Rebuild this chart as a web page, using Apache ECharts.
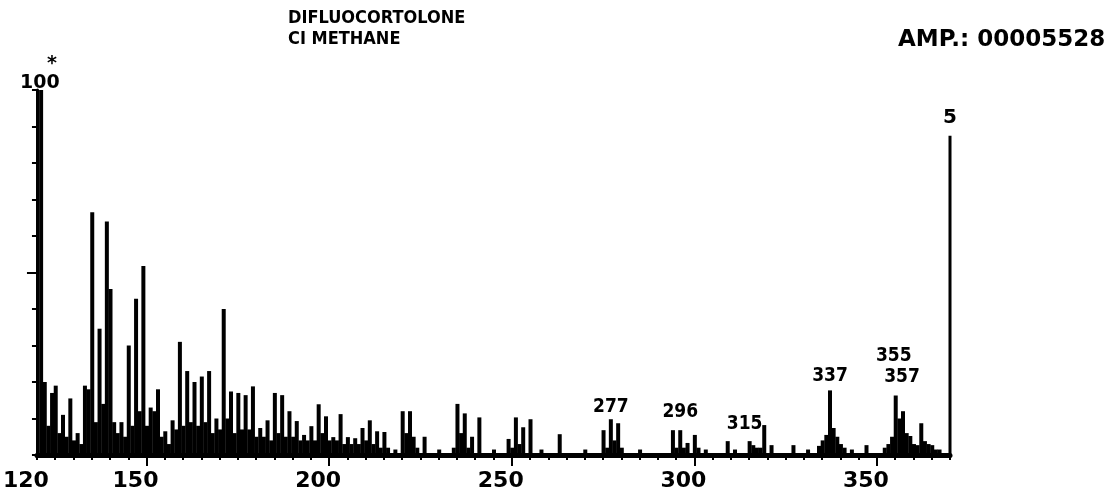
<!DOCTYPE html>
<html>
<head>
<meta charset="utf-8">
<title>DIFLUOCORTOLONE CI METHANE</title>
<script src="https://cdn.jsdelivr.net/npm/echarts@6/dist/echarts.min.js"></script>
<style>
html, body { margin: 0; padding: 0; background: #fff; }
#spectrum { width: 1114px; height: 499px; }
</style>
</head>
<body>
<div id="spectrum"></div>
<script>
// m/z of each peak and its relative intensity (%)
const masses = [
	121, 122, 123, 124, 125, 126, 127, 128, 129, 130, 131, 132, 133, 134, 135, 136, 137, 138, 139, 140,
	141, 142, 143, 144, 145, 146, 147, 148, 149, 150, 151, 152, 153, 154, 155, 156, 157, 158, 159, 160,
	161, 162, 163, 164, 165, 166, 167, 168, 169, 170, 171, 172, 173, 174, 175, 176, 177, 178, 179, 180,
	181, 182, 183, 184, 185, 186, 187, 188, 189, 190, 191, 192, 193, 194, 195, 196, 197, 198, 199, 200,
	201, 202, 203, 204, 205, 206, 207, 208, 209, 210, 211, 212, 213, 214, 215, 216, 218, 220, 221, 222,
	223, 224, 226, 230, 234, 235, 236, 237, 238, 239, 241, 245, 249, 250, 251, 252, 253, 255, 258, 263,
	270, 275, 276, 277, 278, 279, 280, 285, 294, 295, 296, 297, 298, 300, 301, 303, 309, 311, 315, 316,
	317, 318, 319, 321, 327, 331, 334, 335, 336, 337, 338, 339, 340, 341, 343, 347, 352, 353, 354, 355,
	356, 357, 358, 359, 360, 361, 362, 363, 364, 365, 366, 367
];
const intensities = [
	100, 20, 8, 17, 19, 6, 11, 5, 15.5, 4, 6, 3, 19, 18, 66.5, 9, 34.6, 14, 64, 45.5,
	9, 6, 9, 5, 30, 8, 42.8, 12, 51.8, 8, 13, 12, 18, 5, 6.5, 3, 9.5, 7, 31, 8,
	23, 9, 20, 8, 21.5, 9, 23, 6, 10, 7, 40, 10, 17.4, 6, 17, 7, 16.4, 7, 18.8, 5,
	7.4, 5, 9.5, 4, 17, 6, 16.4, 5, 12, 5, 9.3, 4, 5.5, 4, 7.9, 4, 13.9, 6, 10.6, 4,
	4.9, 4, 11.2, 3, 4.9, 3, 4.6, 3, 7.4, 4, 9.5, 3, 6.5, 2, 6.3, 2, 1.5, 12, 6, 12,
	5, 2, 5, 1.5, 2, 14, 6, 11.4, 2, 5, 10.3, 1.5, 4.4, 2, 10.3, 3, 7.6, 9.8, 1.5, 5.7,
	1.5, 6.8, 2, 9.8, 4, 8.7, 2, 1.5, 6.8, 2, 6.8, 2, 3.3, 5.5, 2, 1.5, 3.8, 1.5, 3.8, 2.7,
	2, 2, 8.2, 2.7, 2.7, 1.5, 2.5, 4, 5.5, 17.7, 7.4, 5, 3, 2, 1.5, 2.7, 2, 3, 5, 16.3,
	10, 12, 6, 5.2, 3, 2.7, 8.7, 3.8, 3, 2.7, 1.5, 1.5
];
const labelledMasses = [277, 296, 315, 337, 355, 357];
const xTickLabels = [120, 150, 200, 250, 300, 350];
const xMajorTicks = [150, 200, 250, 300, 350];
const yMajorTicks = [50];
const scaleMarker = [370, 87.5]; // the "5" bar at the right edge

// how far each peak label sits above its peak, px
const labelLift = {277: 3, 296: 9, 315: 8, 337: 5, 355: 30, 357: 25};
const labelShift = {315: -5, 355: -2, 357: -1};

const FONT = "'DejaVu Sans', sans-serif";
const FONT_NARROW = "'DejaVu Sans Condensed', 'DejaVu Sans', sans-serif";

const peakData = masses.map(function (m, i) {
	const item = {value: [m, intensities[i]]};
	if (labelledMasses.indexOf(m) >= 0) {
		item.label = {
			show: true,
			position: "top",
			distance: labelLift[m],
			offset: [labelShift[m] || 0, 0],
			formatter: String(m),
			color: "#000",
			fontFamily: FONT_NARROW,
			fontWeight: "bold",
			fontSize: 19
		};
	}
	return item;
});

const chart = echarts.init(document.getElementById("spectrum"));
chart.setOption({
	animation: false,
	backgroundColor: "#fff",
	title: [
		{
			text: "DIFLUOCORTOLONE\nCI METHANE",
			left: 283,
			top: 3,
			textStyle: {color: "#000", fontFamily: FONT_NARROW, fontWeight: "bold", fontSize: 18, lineHeight: 21}
		},
		{
			text: "AMP.: 00005528",
			left: 893,
			top: 24,
			textStyle: {color: "#000", fontFamily: FONT, fontWeight: "bold", fontSize: 23}
		}
	],
	graphic: [
		{type: "text", left: 20, top: 74, style: {text: "100", fill: "#000", font: "bold 19px " + FONT}},
		{type: "text", left: 47, top: 55, style: {text: "*", fill: "#000", font: "bold 19px " + FONT}}
	],
	grid: {left: 36, right: 164, top: 90, bottom: 44},
	xAxis: [
		{
			type: "value",
			min: 120,
			max: 370,
			interval: 5,
			axisLine: {lineStyle: {color: "#000", width: 5}},
			axisTick: {length: 5, lineStyle: {color: "#000", width: 2}},
			axisLabel: {show: false},
			splitLine: {show: false}
		},
		{
			type: "value",
			min: 120,
			max: 370,
			position: "bottom",
			axisLine: {show: false},
			axisTick: {customValues: xMajorTicks, length: 11, lineStyle: {color: "#000", width: 2}},
			axisLabel: {
				customValues: xTickLabels,
				margin: 15,
				padding: [0, 22, 0, 0],
				color: "#000",
				fontFamily: FONT,
				fontWeight: "bold",
				fontSize: 22
			},
			splitLine: {show: false}
		}
	],
	yAxis: [
		{
			type: "value",
			min: 0,
			max: 100,
			interval: 10,
			position: "left",
			axisLine: {show: true, lineStyle: {color: "#000", width: 3}},
			axisTick: {show: true, length: 5, lineStyle: {color: "#000", width: 2}},
			axisLabel: {show: false},
			splitLine: {show: false}
		},
		{
			type: "value",
			min: 0,
			max: 100,
			position: "left",
			axisLine: {show: false},
			axisTick: {show: true, customValues: yMajorTicks, length: 10, lineStyle: {color: "#000", width: 2}},
			axisLabel: {show: false},
			splitLine: {show: false}
		}
	],
	series: [
		{
			type: "bar",
			xAxisIndex: 0,
			yAxisIndex: 0,
			barWidth: 4,
			itemStyle: {color: "#000"},
			data: peakData
		},
		{
			type: "bar",
			xAxisIndex: 0,
			yAxisIndex: 0,
			barWidth: 3,
			barGap: "-100%",
			itemStyle: {color: "#000"},
			label: {
				show: true,
				position: "top",
				distance: 8,
				formatter: "5",
				color: "#000",
				fontFamily: FONT,
				fontWeight: "bold",
				fontSize: 20
			},
			data: [scaleMarker]
		}
	]
});
window.addEventListener("resize", function () {
	chart.resize();
});
</script>
</body>
</html>
